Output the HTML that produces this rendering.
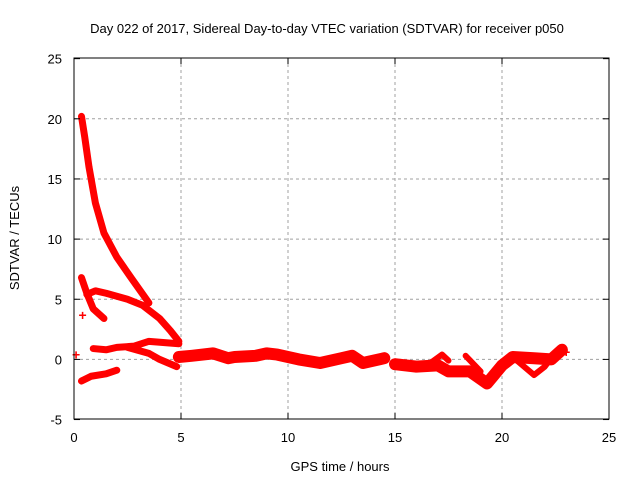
<!DOCTYPE html>
<html><head><meta charset="utf-8"><style>
body{margin:0;background:#fff;}
svg{display:block;font-family:"Liberation Sans",sans-serif;}
</style></head><body>
<svg id="chart" width="640" height="480">
<rect x="0" y="0" width="640" height="480" fill="#fff"/>
<text x="327" y="33" text-anchor="middle" font-size="13">Day 022 of 2017, Sidereal Day-to-day VTEC variation (SDTVAR) for receiver p050</text>
<text x="340" y="471" text-anchor="middle" font-size="13">GPS time / hours</text>
<text transform="translate(19,238) rotate(-90)" text-anchor="middle" font-size="13">SDTVAR / TECUs</text>
<g id="grid"></g><g id="marks"></g><g id="axes"></g>
</svg>
<script>
const xTicks=[0,5,10,15,20,25];
const yTicks=[-5,0,5,10,15,20,25];
const curveA=[[0.35,20.2],[0.5,18.5],[0.7,16],[1.0,13],[1.4,10.5],[2.0,8.5],[2.7,6.7],[3.5,4.7]];
const curveB=[[0.35,6.8],[0.6,5.5],[0.9,4.2],[1.4,3.4]];
const curveC=[[0.6,5.4],[1.0,5.7],[1.5,5.5],[2.5,5.0],[3.2,4.5],[4.0,3.4],[4.5,2.4],[4.9,1.5]];
const curveD=[[0.9,0.9],[1.5,0.8],[2.0,1.0],[2.8,1.1],[3.5,1.5],[4.9,1.3]];
const curveE=[[2.5,1.0],[3.5,0.5],[4.0,0.0],[4.8,-0.6]];
const curveF=[[0.35,-1.8],[0.8,-1.4],[1.5,-1.2],[2.0,-0.9]];
const bandG=[[4.9,0.2],[5.5,0.3],[6.5,0.5],[7.2,0.1],[7.5,0.2],[8.5,0.3],[9.0,0.5],[9.5,0.4],[10.5,0],[11.5,-0.3],[12.5,0.1],[13,0.3],[13.5,-0.3],[14.5,0.1]];
const bandH=[[15,-0.4],[16,-0.6],[17,-0.5],[17.5,-1.0],[18.5,-1.0],[19.3,-2.0],[20,-0.5],[20.5,0.2],[21.5,0.1],[22.3,0.0],[22.8,0.8]];
const loopI=[[16.5,-0.5],[17.2,0.4],[17.5,-0.1]];
const loopJ=[[18.3,0.3],[19,-1.0]];
const loopK=[[20.5,0.2],[21.5,-1.3],[22,-0.6],[22.5,0.6]];
const singles=[[0.1,0.4],[0.4,3.7],[23.0,0.6]];
const X=v=>74+21.4*v, Y=v=>359.4-12.03*v;
const NS="http://www.w3.org/2000/svg";
function mk(t,a,p){const e=document.createElementNS(NS,t);for(const k in a)e.setAttribute(k,a[k]);p.appendChild(e);return e;}
const grid=document.getElementById('grid'),marks=document.getElementById('marks'),axes=document.getElementById('axes');
xTicks.forEach(t=>{
 if(t>0&&t<25){const g=mk('line',{x1:X(t),x2:X(t),y1:58,y2:419,stroke:'#a0a0a0','stroke-dasharray':'3,3'},grid);
 
 }
 mk('line',{x1:X(t),x2:X(t),y1:419,y2:413,stroke:'#000'},axes);
 mk('line',{x1:X(t),x2:X(t),y1:58,y2:64,stroke:'#000'},axes);
 const l=mk('text',{x:X(t),y:442,'text-anchor':'middle','font-size':13},axes);l.textContent=t;
 
 
});
yTicks.forEach(t=>{
 if(t>-5&&t<25){const g=mk('line',{x1:74,x2:609,y1:Y(t),y2:Y(t),stroke:'#a0a0a0','stroke-dasharray':'3,3'},grid);
 
 }
 mk('line',{x1:74,x2:80,y1:Y(t),y2:Y(t),stroke:'#000'},axes);
 mk('line',{x1:609,x2:603,y1:Y(t),y2:Y(t),stroke:'#000'},axes);
 const l=mk('text',{x:62,y:Y(t)+5,'text-anchor':'end','font-size':13},axes);l.textContent=t;
 
 
});
const frame=mk('rect',{x:74,y:58,width:535,height:361,fill:'none',stroke:'#000'},axes);


function series(pts,w,name){
 const p=mk('polyline',{points:pts.map(d=>X(d[0])+','+Y(d[1])).join(' '),fill:'none',stroke:'#ff0000','stroke-width':w,'stroke-linejoin':'round','stroke-linecap':'round'},marks);
 
 
}
series(curveA,7,'series-curve-a');series(curveB,7,'series-curve-b');series(curveC,7,'series-curve-c');
series(curveD,7,'series-curve-d');series(curveE,7,'series-curve-e');series(curveF,7,'series-curve-f');
series(bandG,12,'series-band-g');series(bandH,12,'series-band-h');
series(loopI,6,'series-loop-i');series(loopJ,6,'series-loop-j');series(loopK,6,'series-loop-k');
singles.forEach(d=>{
 const m=mk('text',{x:X(d[0]),y:Y(d[1])+5,'text-anchor':'middle','font-size':14,fill:'#ff0000','font-weight':'bold'},marks);
 m.textContent='+';
 
 
});
</script>
</body></html>
